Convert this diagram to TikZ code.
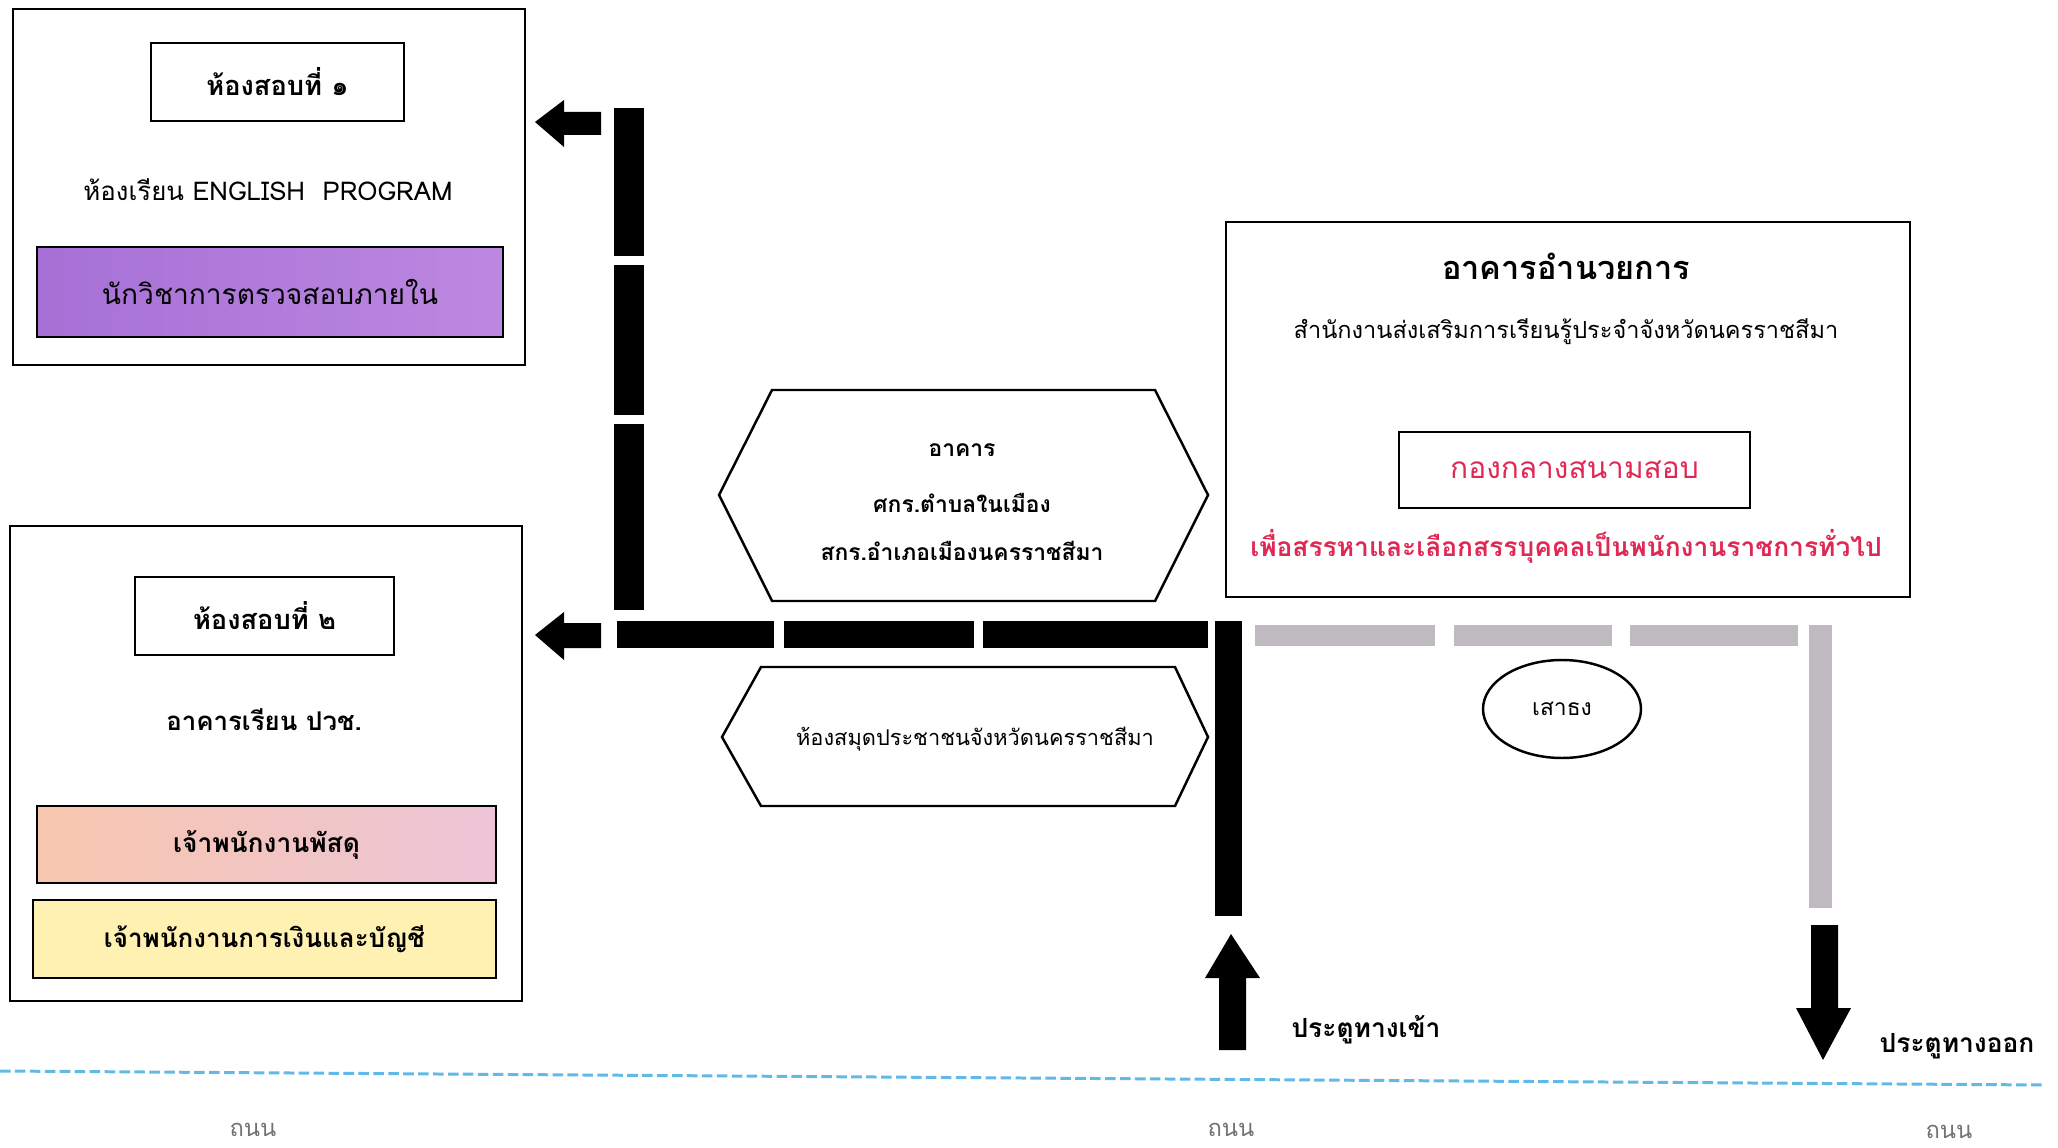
\documentclass[tikz,border=0pt]{standalone}
\usepackage{fontspec}
\setmainfont[Script=Thai]{Loma}
\usetikzlibrary{shapes.geometric}

\definecolor{examPurple}{RGB}{166,112,214}
\definecolor{examPurpleR}{RGB}{188,136,224}
\definecolor{examPeach}{RGB}{247,198,174}
\definecolor{examPeachR}{RGB}{236,196,214}
\definecolor{examYellow}{RGB}{255,241,178}
\definecolor{examRed}{RGB}{224,40,84}
\definecolor{barGrey}{RGB}{190,186,192}
\definecolor{roadBlue}{RGB}{98,184,230}
\definecolor{roadGrey}{RGB}{115,115,115}

\begin{document}
\begin{tikzpicture}[x=0.02cm, y=-0.02cm,
  box/.style={draw, line width=1.4pt, inner sep=0pt},
  fs/.style={font=\fontsize{#1}{#1}\selectfont},
  fsb/.style={font=\bfseries\fontsize{#1}{#1}\selectfont}]
  \useasboundingbox (0,0) rectangle (2058,1148);

  % room 1
  \node[box, minimum width=10.24cm, minimum height=7.12cm] (room1) at (269,187) {};
  \node[box, minimum width=5.06cm, minimum height=1.56cm, fsb=15.5] (room1title) at (277.5,82) {ห้องสอบที่ ๑};
  \node[fs=14.7] (room1name) at (268,190) {ห้องเรียน ENGLISH\ \ PROGRAM};
  \node[box, left color=examPurple, right color=examPurpleR, minimum width=9.32cm, minimum height=1.8cm, fs=16] (auditor) at (270,292) {นักวิชาการตรวจสอบภายใน};

  % room 2
  \node[box, minimum width=10.24cm, minimum height=9.5cm] (room2) at (266,763.5) {};
  \node[box, minimum width=5.18cm, minimum height=1.56cm, fsb=15.5] (room2title) at (264.5,616) {ห้องสอบที่ ๒};
  \node[fsb=14.7] (room2name) at (264,720) {อาคารเรียน ปวช.};
  \node[box, left color=examPeach, right color=examPeachR, minimum width=9.18cm, minimum height=1.54cm, fsb=15] (supply) at (266.5,844.5) {เจ้าพนักงานพัสดุ};
  \node[box, fill=examYellow, minimum width=9.26cm, minimum height=1.56cm, fsb=14.8] (finance) at (264.5,939) {เจ้าพนักงานการเงินและบัญชี};

  % hexagon buildings
  \draw[line width=1.4pt] (719,495) -- (772,390) -- (1155,390) -- (1208,495) -- (1155,601) -- (772,601) -- cycle;
  \node[fsb=13] (centreA) at (962,450) {อาคาร};
  \node[fsb=13] (centreB) at (962,503) {ศกร.ตำบลในเมือง};
  \node[fsb=13] (centreC) at (962,551) {สกร.อำเภอเมืองนครราชสีมา};
  \draw[line width=1.4pt] (722,737) -- (761,667) -- (1175,667) -- (1208,737) -- (1175,806) -- (761,806) -- cycle;
  \node[fs=12.4] (library) at (975,739) {ห้องสมุดประชาชนจังหวัดนครราชสีมา};

  % admin building
  \node[box, minimum width=13.68cm, minimum height=7.5cm] (admin) at (1568,409.5) {};
  \node[fsb=18.5] (admintitle) at (1566,266) {อาคารอำนวยการ};
  \node[fs=13.4] (office) at (1566,332) {สำนักงานส่งเสริมการเรียนรู้ประจำจังหวัดนครราชสีมา};
  \node[box, minimum width=7.02cm, minimum height=1.52cm, fs=17, text=examRed] (examhq) at (1574.5,470) {กองกลางสนามสอบ};
  \node[fsb=15, text=examRed] (purpose) at (1566,546) {เพื่อสรรหาและเลือกสรรบุคคลเป็นพนักงานราชการทั่วไป};

  % walkways
  \fill (614,108) rectangle (644,256);
  \fill (614,265) rectangle (644,415);
  \fill (614,424) rectangle (644,610);
  \fill (617,621) rectangle (774,648);
  \fill (784,621) rectangle (974,648);
  \fill (983,621) rectangle (1208,648);
  \fill (1215,621) rectangle (1242,916);
  \fill[barGrey] (1255,625) rectangle (1435,646);
  \fill[barGrey] (1454,625) rectangle (1612,646);
  \fill[barGrey] (1630,625) rectangle (1798,646);
  \fill[barGrey] (1809,625) rectangle (1832,908);

  % arrows
  \fill (535,122) -- (564,100) -- (564,112) -- (601,112) -- (601,135) -- (564,135) -- (564,147) -- cycle;
  \fill (535,635) -- (564,612) -- (564,623) -- (601,623) -- (601,648) -- (564,648) -- (564,660) -- cycle;
  \fill (1231,934) -- (1260,978) -- (1246,978) -- (1246,1050) -- (1219,1050) -- (1219,978) -- (1205,978) -- cycle;
  \fill (1811,925) -- (1838,925) -- (1838,1008) -- (1851,1008) -- (1823,1060) -- (1796,1008) -- (1811,1008) -- cycle;

  \node[draw, ellipse, line width=1.4pt, minimum width=3.16cm, minimum height=1.96cm, fs=13] (flag) at (1562,709) {เสาธง};
  \node[fsb=15] (gatein) at (1366,1030) {ประตูทางเข้า};
  \node[fsb=15] (gateout) at (1957,1046) {ประตูทางออก};

  % road
  \coordinate (roadL) at (0,1071);
  \coordinate (roadR) at (2045,1085);
  \draw[roadBlue, line width=1.7pt, dash pattern=on 6pt off 2.5pt] (roadL) -- (roadR);
  \node[fs=13.5, text=roadGrey] (road1) at (253,1130) {ถนน};
  \node[fs=13.5, text=roadGrey] (road2) at (1231,1130) {ถนน};
  \node[fs=13.5, text=roadGrey] (road3) at (1949,1132) {ถนน};
\end{tikzpicture}
\end{document}
